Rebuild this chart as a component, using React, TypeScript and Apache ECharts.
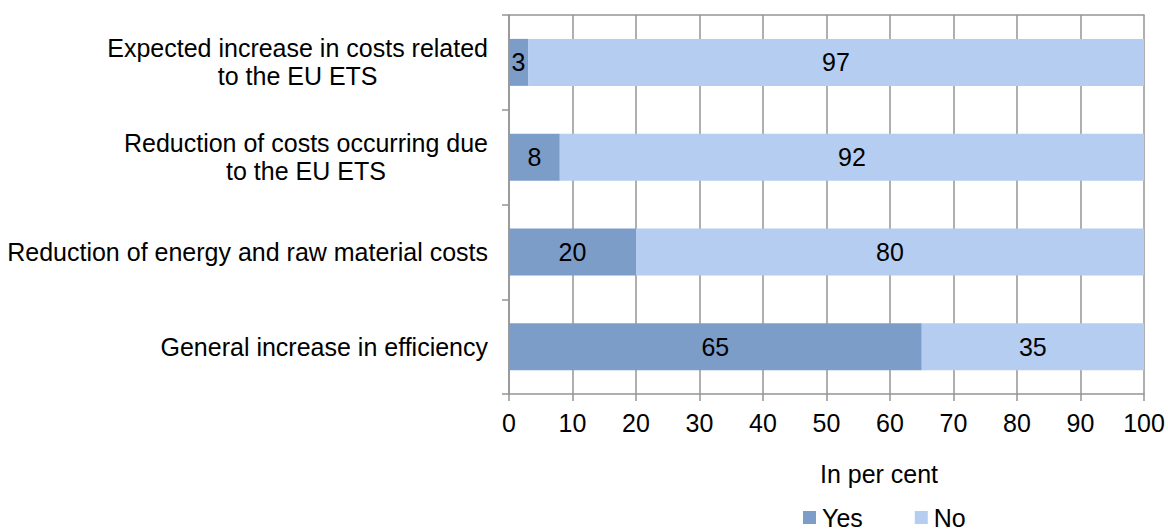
import React, { useEffect, useRef } from "react";
import * as echarts from "echarts";

const categories = [
  "Expected increase in costs related\nto the EU ETS",
  "Reduction of costs occurring due\nto the EU ETS",
  "Reduction of energy and raw material costs",
  "General increase in efficiency",
];
const yesValues = [3, 8, 20, 65];
const noValues = [97, 92, 80, 35];
const seriesNames = ["Yes", "No"];
const axisTitle = "In per cent";

const FONT = "'Liberation Sans', Arial, sans-serif";
const FS = 25;

export default function App() {
  const ref = useRef<HTMLDivElement>(null);
  useEffect(() => {
    if (!ref.current) return;
    const chart = echarts.init(ref.current, undefined, { renderer: "svg" });
    const gridColor = "#959595";
    chart.setOption({
      animation: false,
      textStyle: { fontFamily: FONT, color: "#000" },
      title: {
        text: axisTitle,
        left: 879,
        top: 461,
        padding: 0,
        textAlign: "center",
        textStyle: { fontFamily: FONT, fontSize: FS, fontWeight: "normal", color: "#000" },
      },
      legend: {
        data: seriesNames,
        left: 803,
        top: 505,
        padding: 0,
        itemWidth: 13,
        itemHeight: 13,
        itemGap: 52,
        icon: "rect",
        textStyle: { fontFamily: FONT, fontSize: FS, color: "#000", padding: [0, 0, 0, 1] },
      },
      grid: { left: 509, right: 24, top: 15, bottom: 138, containLabel: false },
      xAxis: [
        {
          type: "value",
          min: 0,
          max: 100,
          interval: 10,
          axisLine: { show: true, lineStyle: { color: gridColor, width: 1.5 } },
          axisTick: { show: true, length: 7, lineStyle: { color: gridColor, width: 1.5 } },
          axisLabel: { fontFamily: FONT, fontSize: FS, color: "#000", margin: 16 },
          splitLine: { show: true, lineStyle: { color: gridColor, width: 1.5 } },
        },
        {
          type: "value",
          position: "top",
          min: 0,
          max: 100,
          axisLine: { show: true, lineStyle: { color: gridColor, width: 1.5 } },
          axisTick: { show: false },
          axisLabel: { show: false },
          splitLine: { show: false },
        },
      ],
      yAxis: {
        type: "category",
        data: categories,
        inverse: true,
        axisLine: { show: true, lineStyle: { color: gridColor, width: 1.5 } },
        axisTick: { show: true, length: 7, lineStyle: { color: gridColor, width: 1.5 } },
        axisLabel: {
          margin: 21,
          formatter: (v: string) => `{a|${v}}`,
          rich: {
            a: { fontFamily: FONT, fontSize: FS, lineHeight: 28, color: "#000", align: "center" },
          },
        },
      },
      series: [
        {
          name: seriesNames[0],
          type: "bar",
          stack: "total",
          data: yesValues,
          barWidth: 47,
          itemStyle: { color: "#7d9dc9" },
          label: { show: true, position: "inside", fontFamily: FONT, fontSize: FS, color: "#000" },
        },
        {
          name: seriesNames[1],
          type: "bar",
          stack: "total",
          data: noValues,
          barWidth: 47,
          itemStyle: { color: "#b4cdf1" },
          label: { show: true, position: "inside", fontFamily: FONT, fontSize: FS, color: "#000" },
        },
      ],
    });
    return () => chart.dispose();
  }, []);
  return <div ref={ref} style={{ width: 1168, height: 532, position: "absolute", left: 0, top: 0 }} />;
}
